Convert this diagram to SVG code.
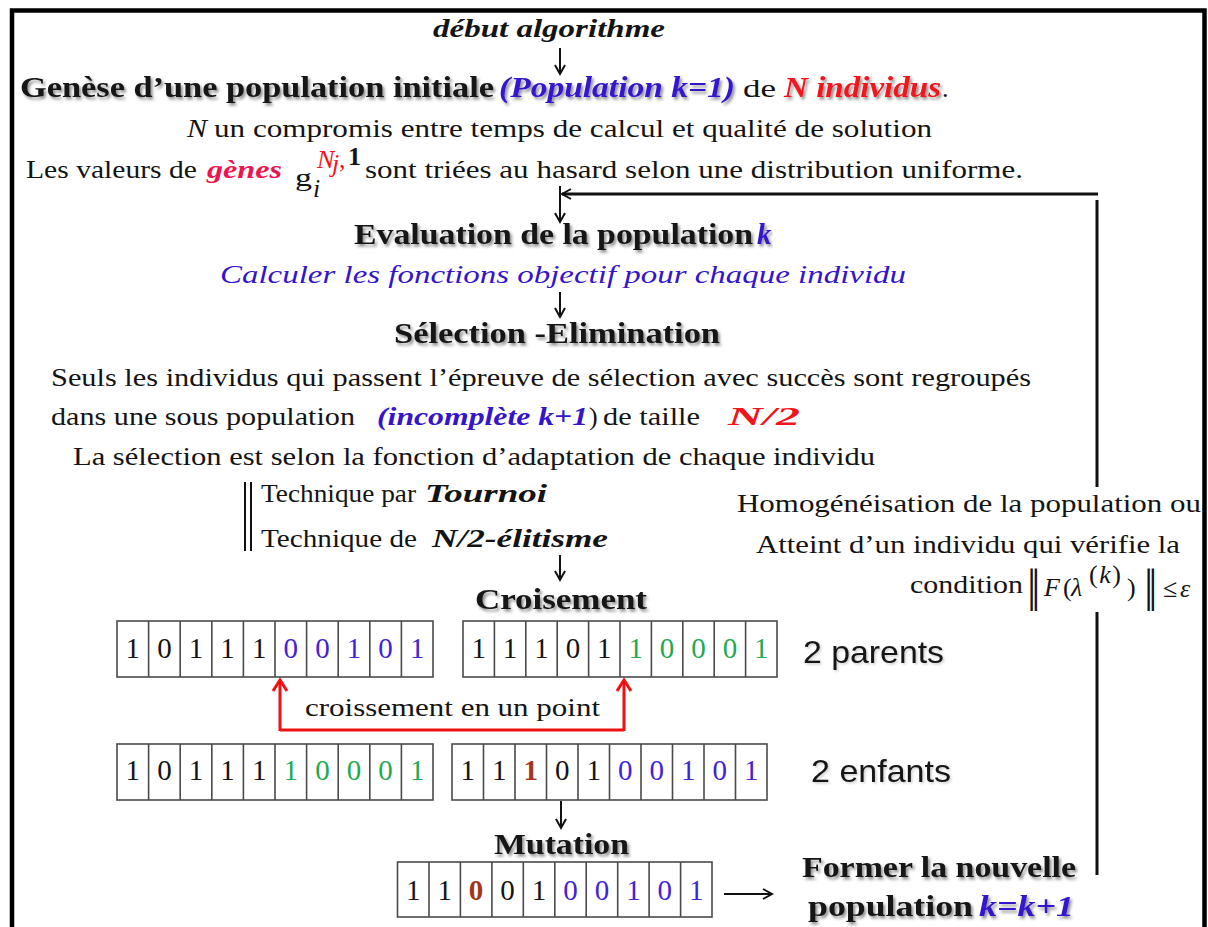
<svg xmlns="http://www.w3.org/2000/svg" width="1208" height="927" viewBox="0 0 1208 927">
  <style>
    text { font-family: "Liberation Serif", "Times New Roman", serif; fill: #141414; font-size: 26px; }
    .it { font-style: italic; }
    .bd { font-weight: bold; }
    .hd { font-weight: bold; font-size: 29px; filter: url(#shadow); }
    .blue { fill: #3414cc; }
    .red { fill: #f2141c; }
    .pink { fill: #ee1450; }
    .sans { font-family: "Liberation Sans", Arial, sans-serif; font-size: 32px; filter: url(#soft); }
    .dg { font-size: 29px; text-anchor: middle; }
    .g { fill: #1faa52; }
    .u { fill: #4222d8; }
    .br { fill: #a3361b; }
    .cell { fill: #ffffff; stroke: #4a4a4a; stroke-width: 1.6; }
    .sep { stroke: #4a4a4a; stroke-width: 1.6; }
    .arr { stroke: #111; stroke-width: 2; fill: none; marker-end: url(#ah); }
    .loop { stroke: #111; stroke-width: 3; fill: none; }
    .bar { font-size: 46px; letter-spacing: -5px; }
  </style>
  <defs>
    <filter id="shadow" x="-5%" y="-30%" width="110%" height="160%">
      <feDropShadow dx="2" dy="2.5" stdDeviation="1.4" flood-color="#000" flood-opacity="0.45"/>
    </filter>
    <filter id="soft" x="-5%" y="-30%" width="110%" height="160%">
      <feDropShadow dx="1.5" dy="1.5" stdDeviation="1" flood-color="#000" flood-opacity="0.2"/>
    </filter>
    <marker id="ah" markerUnits="userSpaceOnUse" markerWidth="14" markerHeight="14" refX="10" refY="5" orient="auto" overflow="visible">
      <path d="M1,0 L10,5 L1,10" fill="none" stroke="#111" stroke-width="2"/>
    </marker>
    <marker id="ahRed" markerUnits="userSpaceOnUse" markerWidth="18" markerHeight="18" refX="12" refY="7" orient="auto" overflow="visible">
      <path d="M1,0 L12,7 L1,14" fill="none" stroke="#ee1111" stroke-width="3"/>
    </marker>
  </defs>

  <rect x="0" y="0" width="1208" height="927" fill="#ffffff"/>
  <!-- outer frame -->
  <rect x="12" y="10.5" width="1192.5" height="940" fill="none" stroke="#000" stroke-width="4.5"/>

  <!-- connectors -->
  <g id="connectors">
    <line class="arr" x1="560" y1="48" x2="560" y2="74"/>
    <line class="arr" x1="560" y1="186" x2="560" y2="222"/>
    <line class="arr" x1="560" y1="292" x2="560" y2="317"/>
    <line class="arr" x1="560" y1="555" x2="560" y2="580"/>
    <line class="arr" x1="561" y1="801" x2="561" y2="828"/>
    <line class="arr" x1="724" y1="894" x2="772" y2="894"/>
    <!-- loop back from the new population to the evaluation step -->
    <polyline class="loop" points="1097,875 1097,612"/>
    <polyline class="loop" points="1097,487 1097,200"/>
    <line class="loop" x1="1098" y1="194" x2="562" y2="194" marker-end="url(#ah)"/>
    <!-- one-point crossover marker -->
    <polyline points="280,730 624,730" fill="none" stroke="#ee1111" stroke-width="3"/>
    <line x1="280" y1="731" x2="280" y2="680" stroke="#ee1111" stroke-width="3" marker-end="url(#ahRed)"/>
    <line x1="624" y1="731" x2="624" y2="680" stroke="#ee1111" stroke-width="3" marker-end="url(#ahRed)"/>
  </g>

  <g id="start">
    <text x="433" y="37" class="it bd" font-size="25" textLength="232" lengthAdjust="spacingAndGlyphs">début algorithme</text>
  </g>

  <g id="genese">
    <text x="20" y="97" class="hd" textLength="474" lengthAdjust="spacingAndGlyphs">Genèse d’une population initiale</text>
    <text x="499" y="97" class="hd it blue" textLength="236" lengthAdjust="spacingAndGlyphs">(Population k=1)</text>
    <text x="743" y="97" textLength="33" lengthAdjust="spacingAndGlyphs">de</text>
    <text x="784" y="97" class="hd it red" textLength="157" lengthAdjust="spacingAndGlyphs">N individus</text>
    <text x="942" y="97">.</text>
    <text x="187" y="137" class="it" textLength="20" lengthAdjust="spacingAndGlyphs">N</text>
    <text x="214" y="137" textLength="718" lengthAdjust="spacingAndGlyphs">un compromis entre temps de calcul et qualité de solution</text>
    <text x="26" y="178" textLength="171" lengthAdjust="spacingAndGlyphs">Les valeurs de</text>
    <text x="207" y="178" class="it bd pink" textLength="75" lengthAdjust="spacingAndGlyphs">gènes</text>
    <text x="295" y="186" font-size="28" textLength="17" lengthAdjust="spacingAndGlyphs">g</text>
    <text x="313" y="197" class="it" font-size="16" fill="#e81ee8">i</text>
    <text x="317" y="168" class="it red" font-size="18">N</text>
    <text x="332" y="172" class="it red" font-size="11">j</text>
    <text x="339" y="168" class="red" font-size="15">,</text>
    <text x="348" y="165" class="bd" font-size="17" fill="#1818e6">1</text>
    <text x="365" y="178" textLength="658" lengthAdjust="spacingAndGlyphs">sont triées au hasard selon une distribution uniforme.</text>
  </g>

  <g id="evaluation">
    <text x="354" y="244" class="hd" textLength="399" lengthAdjust="spacingAndGlyphs">Evaluation de la population</text>
    <text x="757" y="244" class="hd it blue">k</text>
    <text x="220" y="283" class="it blue" font-size="27" textLength="686" lengthAdjust="spacingAndGlyphs">Calculer  les fonctions objectif pour chaque individu</text>
  </g>

  <g id="selection">
    <text x="394" y="343" class="hd" textLength="326" lengthAdjust="spacingAndGlyphs">Sélection -Elimination</text>
    <text x="51" y="386" textLength="980" lengthAdjust="spacingAndGlyphs">Seuls les individus qui passent l’épreuve de sélection avec succès sont regroupés</text>
    <text x="51" y="425" textLength="304" lengthAdjust="spacingAndGlyphs">dans une sous population</text>
    <text x="377" y="425" class="it bd blue" textLength="211" lengthAdjust="spacingAndGlyphs">(incomplète k+1</text>
    <text x="589" y="425">)</text>
    <text x="603" y="425" textLength="97" lengthAdjust="spacingAndGlyphs">de taille</text>
    <text x="728" y="425" class="it bd red" textLength="72" lengthAdjust="spacingAndGlyphs">N/2</text>
    <text x="73" y="465" textLength="802" lengthAdjust="spacingAndGlyphs">La sélection est selon la fonction d’adaptation de chaque individu</text>
    <line x1="245" y1="482" x2="245" y2="551" stroke="#111" stroke-width="2"/>
    <line x1="251" y1="482" x2="251" y2="551" stroke="#111" stroke-width="2"/>
    <text x="261" y="502" textLength="155" lengthAdjust="spacingAndGlyphs">Technique par</text>
    <text x="425" y="502" class="it bd" textLength="122" lengthAdjust="spacingAndGlyphs">Tournoi</text>
    <text x="261" y="547" textLength="156" lengthAdjust="spacingAndGlyphs">Technique de</text>
    <text x="432" y="547" class="it bd" textLength="176" lengthAdjust="spacingAndGlyphs">N/2-élitisme</text>
  </g>

  <g id="stop-condition">
    <text x="737" y="512" textLength="464" lengthAdjust="spacingAndGlyphs">Homogénéisation de la population ou</text>
    <text x="756" y="553" textLength="424" lengthAdjust="spacingAndGlyphs">Atteint d’un individu qui vérifie la</text>
    <text x="910" y="593" textLength="113" lengthAdjust="spacingAndGlyphs">condition</text>
    <!-- norm ‖F(λ^(k))‖ ≤ ε -->
    <text x="1027" y="601" class="bar">||</text>
    <text x="1044" y="596" class="it" font-size="25">F</text>
    <text x="1063" y="596" font-size="25">(</text>
    <text x="1071" y="596" class="it" font-size="25">λ</text>
    <text x="1089" y="583" font-size="15" letter-spacing="1.5">(<tspan class="it">k</tspan>)</text>
    <text x="1127" y="596" font-size="25">)</text>
    <text x="1144" y="601" class="bar">||</text>
    <text x="1163" y="597" font-size="19">≤</text>
    <text x="1180" y="597" class="it" font-size="24">ε</text>
  </g>

  <g id="croisement">
    <text x="475" y="609" class="hd" textLength="172" lengthAdjust="spacingAndGlyphs">Croisement</text>
    <text x="305" y="716" textLength="295" lengthAdjust="spacingAndGlyphs">croissement en un point</text>
    <text x="803" y="663" class="sans" textLength="141" lengthAdjust="spacingAndGlyphs">2 parents</text>
    <text x="811" y="782" class="sans" textLength="140" lengthAdjust="spacingAndGlyphs">2 enfants</text>
  </g>

  <!-- parent 1 -->
  <g id="parent1">
    <rect class="cell" x="117" y="621" width="316" height="56"/>
    <path class="sep" d="M148.6,621V677M180.2,621V677M211.8,621V677M243.4,621V677M275,621V677M306.6,621V677M338.2,621V677M369.8,621V677M401.4,621V677"/>
    <text class="dg" y="658"><tspan x="132.8">1</tspan><tspan x="164.4">0</tspan><tspan x="196">1</tspan><tspan x="227.6">1</tspan><tspan x="259.2">1</tspan><tspan class="u" x="290.8">0</tspan><tspan class="u" x="322.4">0</tspan><tspan class="u" x="354">1</tspan><tspan class="u" x="385.6">0</tspan><tspan class="u" x="417.2">1</tspan></text>
  </g>

  <!-- parent 2 -->
  <g id="parent2">
    <rect class="cell" x="463" y="621" width="314" height="56"/>
    <path class="sep" d="M494.4,621V677M525.8,621V677M557.2,621V677M588.6,621V677M620,621V677M651.4,621V677M682.8,621V677M714.2,621V677M745.6,621V677"/>
    <text class="dg" y="658"><tspan x="478.7">1</tspan><tspan x="510.1">1</tspan><tspan x="541.5">1</tspan><tspan x="572.9">0</tspan><tspan x="604.3">1</tspan><tspan class="g" x="635.7">1</tspan><tspan class="g" x="667.1">0</tspan><tspan class="g" x="698.5">0</tspan><tspan class="g" x="729.9">0</tspan><tspan class="g" x="761.3">1</tspan></text>
  </g>

  <!-- child 1 -->
  <g id="child1">
    <rect class="cell" x="117" y="744" width="316" height="56"/>
    <path class="sep" d="M148.6,744V800M180.2,744V800M211.8,744V800M243.4,744V800M275,744V800M306.6,744V800M338.2,744V800M369.8,744V800M401.4,744V800"/>
    <text class="dg" y="780"><tspan x="132.8">1</tspan><tspan x="164.4">0</tspan><tspan x="196">1</tspan><tspan x="227.6">1</tspan><tspan x="259.2">1</tspan><tspan class="g" x="290.8">1</tspan><tspan class="g" x="322.4">0</tspan><tspan class="g" x="354">0</tspan><tspan class="g" x="385.6">0</tspan><tspan class="g" x="417.2">1</tspan></text>
  </g>

  <!-- child 2 -->
  <g id="child2">
    <rect class="cell" x="452" y="744" width="315" height="56"/>
    <path class="sep" d="M483.5,744V800M515,744V800M546.5,744V800M578,744V800M609.5,744V800M641,744V800M672.5,744V800M704,744V800M735.5,744V800"/>
    <text class="dg" y="780"><tspan x="467.8">1</tspan><tspan x="499.3">1</tspan><tspan class="br bd" x="530.8">1</tspan><tspan x="562.3">0</tspan><tspan x="593.8">1</tspan><tspan class="u" x="625.3">0</tspan><tspan class="u" x="656.8">0</tspan><tspan class="u" x="688.3">1</tspan><tspan class="u" x="719.8">0</tspan><tspan class="u" x="751.3">1</tspan></text>
  </g>

  <g id="mutation">
    <text x="494" y="854" class="hd" textLength="135" lengthAdjust="spacingAndGlyphs">Mutation</text>
    <rect class="cell" x="397.5" y="862" width="314.5" height="55"/>
    <path class="sep" d="M429,862V917M460.4,862V917M491.9,862V917M523.3,862V917M554.8,862V917M586.2,862V917M617.7,862V917M649.1,862V917M680.6,862V917"/>
    <text class="dg" y="900"><tspan x="413.2">1</tspan><tspan x="444.7">1</tspan><tspan class="br bd" x="476.1">0</tspan><tspan x="507.6">0</tspan><tspan x="539">1</tspan><tspan class="u" x="570.5">0</tspan><tspan class="u" x="601.9">0</tspan><tspan class="u" x="633.4">1</tspan><tspan class="u" x="664.8">0</tspan><tspan class="u" x="696.3">1</tspan></text>
  </g>

  <g id="nouvelle-population">
    <text x="802" y="877" class="hd" textLength="274" lengthAdjust="spacingAndGlyphs">Former la nouvelle</text>
    <text x="808" y="916" class="hd" textLength="165" lengthAdjust="spacingAndGlyphs">population</text>
    <text x="979" y="916" class="hd it blue" textLength="95" lengthAdjust="spacingAndGlyphs">k=k+1</text>
  </g>
</svg>
